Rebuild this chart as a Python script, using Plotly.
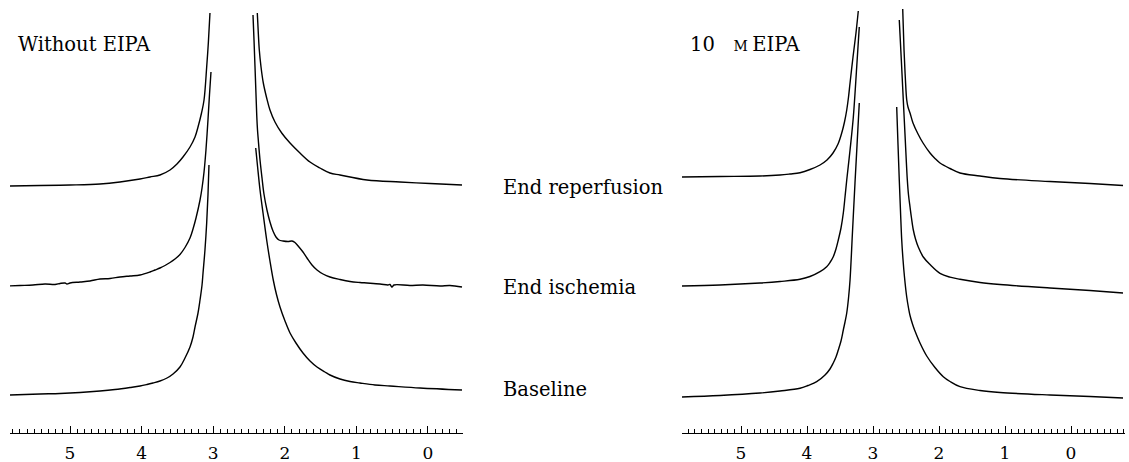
import plotly.graph_objects as go

# ---------------- data (ppm, intensity in arbitrary units) ----------------
# Left panel: Without EIPA
L_rep_a_ppm = [5.866, 5.419, 5.000, 4.581, 4.302, 4.022, 3.883, 3.743, 3.603, 3.506, 3.422, 3.324,
               3.254, 3.212, 3.163, 3.128, 3.091, 3.068, 3.045]
L_rep_a_int = [247, 247.5, 248, 249, 251, 254, 256, 258, 263, 269, 276, 286,
               296, 306, 320, 333, 366, 390, 420]
L_rep_b_ppm = [2.384, 2.370, 2.356, 2.332, 2.300, 2.253, 2.207, 2.137, 2.043, 1.927, 1.788, 1.648,
               1.508, 1.369, 1.229, 0.852, 0.391, -0.028, -0.475]
L_rep_b_int = [420, 400, 383, 366, 350, 335, 323, 311, 300, 290, 280, 271,
               265, 260, 258, 253, 251, 249.5, 248]

L_isc_a_ppm = [5.866, 5.698, 5.517, 5.349, 5.209, 5.140, 5.070, 5.042, 5.000, 4.860, 4.721, 4.581,
               4.441, 4.302, 4.162, 4.022, 3.883, 3.813, 3.743, 3.673, 3.603, 3.534, 3.464, 3.394,
               3.324, 3.282, 3.240, 3.184, 3.156, 3.128, 3.101, 3.073, 3.052, 3.031]
L_isc_a_int = [147, 147.5, 148, 149, 148.5, 149.5, 150, 149, 150, 151, 152, 154,
               154.5, 156, 157, 158, 161, 163, 165, 167.5, 170.5, 174, 178.5, 185.5,
               195, 204, 215, 233, 245, 261, 283, 313, 338, 361]
L_isc_b_ppm = [2.444, 2.430, 2.416, 2.402, 2.392, 2.381, 2.370, 2.346, 2.318, 2.291, 2.249, 2.207,
               2.165, 2.123, 2.081, 2.025, 1.955, 1.899, 1.858, 1.802, 1.746, 1.690, 1.620, 1.550,
               1.466, 1.369, 1.229, 1.089, 0.950, 0.852, 0.670, 0.559, 0.531, 0.503, 0.475, 0.251,
               0.070, -0.168, -0.307, -0.475]
L_isc_b_int = [418, 393, 366, 338, 318, 303, 293, 273, 255, 239, 223, 211,
               202, 196, 193, 192, 191.5, 192, 190.5, 186, 181, 175, 168, 163,
               159, 156, 153.5, 151.5, 150.5, 150, 149, 148, 148.5, 146, 148, 147.5,
               148, 147, 147.5, 146]

L_base_a_ppm = [5.838, 5.419, 5.140, 4.860, 4.581, 4.372, 4.162, 4.022, 3.925, 3.841, 3.743, 3.645,
                3.561, 3.464, 3.394, 3.324, 3.282, 3.254, 3.212, 3.184, 3.156, 3.142, 3.115, 3.091,
                3.073, 3.059]
L_base_a_int = [38, 39, 39.5, 40.5, 42, 43.5, 45.5, 47, 48.5, 50, 52, 55,
                59, 66, 75, 86, 96, 106, 120, 133, 148, 160, 183, 210,
                238, 268]
L_base_b_ppm = [2.406, 2.381, 2.346, 2.304, 2.253, 2.207, 2.161, 2.116, 2.067, 1.997,
                1.927, 1.844, 1.746, 1.648, 1.550, 1.439, 1.369, 1.229, 1.089, 0.950, 0.740, 0.531,
                0.112, -0.475]
L_base_b_int = [285, 267, 243, 220, 193, 172, 153, 138.5, 126, 112,
                100, 90, 80, 72, 66, 61, 58, 54, 51.5, 50, 48, 47,
                45, 43]

# Right panel: 10 uM EIPA
R_rep_a_ppm = [5.894, 5.318, 4.712, 4.409, 4.258, 4.106, 3.955, 3.803, 3.697, 3.606, 3.530, 3.474,
               3.432, 3.398, 3.371, 3.348, 3.303, 3.258, 3.223]
R_rep_a_int = [256, 256.5, 257, 258, 259, 260.3, 263.5, 268, 273, 280, 289, 300,
               311, 323, 336, 350, 376, 400, 422]
R_rep_b_ppm = [2.550, 2.530, 2.511, 2.489, 2.470, 2.439, 2.394, 2.318, 2.242, 2.136, 2.061, 1.985,
               1.833, 1.682, 1.379, 1.076, 0.318, -0.288, -0.788]
R_rep_b_int = [424, 383, 356, 333, 326, 320, 310, 299, 290, 280, 274.5, 270,
               264.5, 260, 257, 254.5, 251.5, 249.5, 247.5]

R_isc_a_ppm = [5.894, 5.318, 4.712, 4.409, 4.106, 3.955, 3.803, 3.702, 3.652, 3.602, 3.561, 3.526,
               3.485, 3.450, 3.424, 3.398, 3.348, 3.298, 3.247, 3.208]
R_isc_a_int = [147, 148, 150, 151.5, 153.7, 156.5, 161.3, 166.3, 170.5, 176.3, 184, 193,
               205, 220, 236, 253, 283, 316, 366, 406]
R_isc_b_ppm = [2.602, 2.571, 2.541, 2.511, 2.480, 2.462, 2.439, 2.417, 2.389, 2.356, 2.314, 2.238,
               2.136, 1.985, 1.833, 1.682, 1.379, 1.076, 0.318, -0.288, -0.788]
R_isc_b_int = [413, 373, 333, 293, 253, 238, 226, 215, 203, 194, 186, 176,
               168.5, 159.7, 155.8, 153.7, 150.5, 148.5, 145, 142.5, 140]

R_base_a_ppm = [5.894, 5.318, 4.712, 4.409, 4.106, 3.985, 3.853, 3.727, 3.652, 3.602, 3.561, 3.526,
                3.485, 3.450, 3.424, 3.398, 3.371, 3.348, 3.311, 3.273, 3.242, 3.208]
R_base_a_int = [36, 37.5, 40, 42, 44.7, 47.5, 51.3, 58, 64, 70, 76, 83,
                92, 103, 111, 120, 135, 153, 201, 250, 288, 330]
R_base_b_ppm = [2.641, 2.621, 2.602, 2.583, 2.565, 2.545, 2.523, 2.489, 2.462, 2.439, 2.402, 2.364,
                2.288, 2.186, 2.061, 1.935, 1.833, 1.682, 1.379, 1.076, 0.318, -0.288, -0.788]
R_base_b_int = [326, 288, 253, 221, 193, 173, 156, 136, 125, 117.5, 109, 102,
                90, 77, 65.5, 56.3, 51.5, 46.3, 42.5, 40.5, 38, 36.5, 35]

tick_vals = [5, 4, 3, 2, 1, 0]
tick_text = ["5", "4", "3", "2", "1", "0"]
trace_labels = ["End reperfusion", "End ischemia", "Baseline"]
label_levels = [246, 146, 44]
panel_titles = ["Without EIPA",
                "10&nbsp;&nbsp;&nbsp;<span style='font-size:14px'>M </span>EIPA"]

# ---------------- figure ----------------
W, H = 1129, 462
FONT = "DejaVu Serif, Liberation Serif, serif"
fig = go.Figure()

line_style = dict(color="black", width=1.4, shape="spline", smoothing=1.0)
left_sets = [(L_rep_a_ppm, L_rep_a_int), (L_rep_b_ppm, L_rep_b_int),
             (L_isc_a_ppm, L_isc_a_int), (L_isc_b_ppm, L_isc_b_int),
             (L_base_a_ppm, L_base_a_int), (L_base_b_ppm, L_base_b_int)]
right_sets = [(R_rep_a_ppm, R_rep_a_int), (R_rep_b_ppm, R_rep_b_int),
              (R_isc_a_ppm, R_isc_a_int), (R_isc_b_ppm, R_isc_b_int),
              (R_base_a_ppm, R_base_a_int), (R_base_b_ppm, R_base_b_int)]
for xs, ys in left_sets:
    fig.add_trace(go.Scatter(x=xs, y=ys, mode="lines", line=line_style,
                             xaxis="x", yaxis="y", showlegend=False, hoverinfo="skip"))
for xs, ys in right_sets:
    fig.add_trace(go.Scatter(x=xs, y=ys, mode="lines", line=line_style,
                             xaxis="x2", yaxis="y2", showlegend=False, hoverinfo="skip"))

axis_common = dict(
    showline=True, linecolor="black", linewidth=1,
    ticks="inside", ticklen=7, tickwidth=1, tickcolor="black",
    tickvals=tick_vals, ticktext=tick_text,
    minor=dict(dtick=0.1, tick0=0, ticks="inside", ticklen=4, tickwidth=1, tickcolor="black"),
    showgrid=False, zeroline=False,
    ticklabelstandoff=5,
    tickfont=dict(family=FONT, size=17, color="black"),
    fixedrange=True,
)
fig.update_layout(
    width=W, height=H,
    margin=dict(l=0, r=0, t=0, b=29),
    paper_bgcolor="white", plot_bgcolor="white",
    xaxis=dict(domain=[10 / W, 463 / W], range=[5.838, -0.489], anchor="y", **axis_common),
    xaxis2=dict(domain=[682 / W, 1125 / W], range=[5.894, -0.818], anchor="y2", **axis_common),
    yaxis=dict(domain=[0, 1], range=[0, 433], visible=False, fixedrange=True),
    yaxis2=dict(domain=[0, 1], range=[0, 433], visible=False, fixedrange=True, anchor="x2"),
)

# panel titles
fig.add_annotation(text=panel_titles[0], xref="paper", yref="paper",
                   x=16 / W, y=(462 - 45 - 29) / 433, xanchor="left", yanchor="middle",
                   showarrow=False, font=dict(family=FONT, size=19.5, color="black"))
fig.add_annotation(text=panel_titles[1], xref="paper", yref="paper",
                   x=688 / W, y=(462 - 45 - 29) / 433, xanchor="left", yanchor="middle",
                   showarrow=False, font=dict(family=FONT, size=19.5, color="black"))
# trace labels (middle column)
for lab, lev in zip(trace_labels, label_levels):
    fig.add_annotation(text=lab, xref="paper", yref="y", x=501 / W, y=lev,
                       xanchor="left", yanchor="middle", showarrow=False,
                       font=dict(family=FONT, size=19.5, color="black"))

fig.write_html("out.html")
